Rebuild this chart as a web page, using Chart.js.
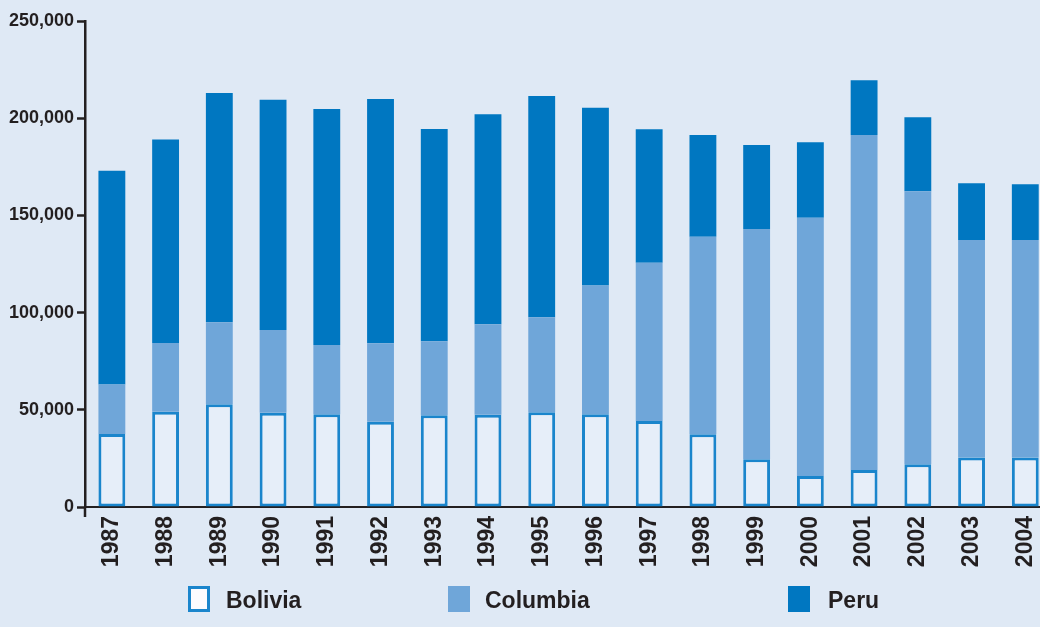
<!DOCTYPE html>
<html>
<head>
<meta charset="utf-8">
<script src="https://cdn.jsdelivr.net/npm/chart.js@4.4.1/dist/chart.umd.min.js"></script>
<style>
  html,body{margin:0;padding:0;background:#dfe9f5;overflow:hidden;width:1040px;height:627px;}
  #wrap{position:relative;width:1040px;height:627px;overflow:hidden;}
  #chart{position:absolute;left:0;top:0;}
  .legend-item{position:absolute;top:586px;height:26px;font:bold 23px "Liberation Sans",Arial,sans-serif;color:#231f20;line-height:28px;}
  .legend-sq{position:absolute;top:586px;width:22px;height:26px;box-sizing:border-box;}
</style>
</head>
<body>
<div id="wrap">
  <canvas id="chart" width="1062" height="627"></canvas>
  <div id="legend"></div>
</div>
<script>
// values (tonnes)
const years=['1987','1988','1989','1990','1991','1992','1993','1994','1995','1996','1997','1998','1999','2000','2001','2002','2003','2004'];
const bolivia=[37500,49000,52800,48500,47700,43900,47200,47500,48700,47700,44200,37400,24500,16000,19000,22000,25400,25400];
const columbia=[25500,35400,42200,42500,35600,40300,38000,46500,48900,66300,81500,101600,118500,132800,172400,140400,111900,111900];
const peru=[110000,104600,118000,118500,121400,125700,109200,108000,113800,91400,68600,52400,43200,38800,28100,38100,29200,28700];
const yTicks=[0,50000,100000,150000,200000,250000];

const FONT='"Liberation Sans", Arial, sans-serif';
const INK='#231f20';
const C_BOL='#1a85cc', C_BOL_FILL='#e6eef9', C_COL='#6fa6d9', C_PERU='#0077c1';

// y axis line runs a little past zero in the original
const axisStub={id:'axisStub',afterDraw(c){
  const ctx=c.ctx,a=c.chartArea;
  ctx.save();ctx.strokeStyle=INK;ctx.lineWidth=2.5;
  ctx.beginPath();ctx.moveTo(a.left,a.bottom);ctx.lineTo(a.left,a.bottom+10);ctx.stroke();
  ctx.restore();
}};

new Chart(document.getElementById('chart'),{
  type:'bar',
  data:{labels:years,datasets:[
    {label:'Bolivia',data:bolivia,backgroundColor:C_BOL_FILL,borderColor:C_BOL,borderWidth:3,borderSkipped:false},
    {label:'Columbia',data:columbia,backgroundColor:C_COL,borderWidth:0},
    {label:'Peru',data:peru,backgroundColor:C_PERU,borderWidth:0}
  ]},
  options:{
    responsive:false,animation:false,
    categoryPercentage:1,barPercentage:0.5,
    layout:{padding:{top:21,right:4,bottom:0,left:0}},
    plugins:{legend:{display:false},tooltip:{enabled:false}},
    scales:{
      x:{stacked:true,
        grid:{display:false,drawTicks:false},
        border:{display:true,color:INK,width:2},
        ticks:{minRotation:90,maxRotation:90,padding:9,color:INK,font:{family:FONT,size:23,weight:'bold'}},
        afterFit:s=>{s.height=120;}
      },
      y:{stacked:true,min:0,max:250000,
        afterBuildTicks:s=>{s.ticks=yTicks.map(v=>({value:v}));},
        grid:{drawOnChartArea:false,drawTicks:true,tickLength:8,tickWidth:2.5,tickColor:INK},
        border:{display:true,color:INK,width:2.5},
        ticks:{padding:3,color:INK,font:{family:FONT,size:18,weight:'bold'},callback:v=>v.toLocaleString('en-US')},
        afterFit:s=>{s.width=85;}
      }
    }
  },
  plugins:[axisStub]
});

// legend, placed like the original
const legendItems=[
  {name:'Bolivia',box:188,text:226,style:`border:3px solid ${C_BOL};background:#fbfbfe`},
  {name:'Columbia',box:448,text:485,style:`background:${C_COL}`},
  {name:'Peru',box:788,text:828,style:`background:${C_PERU}`}
];
document.getElementById('legend').innerHTML=legendItems.map(l=>
  `<span class="legend-sq" style="left:${l.box}px;${l.style}"></span><span class="legend-item" style="left:${l.text}px">${l.name}</span>`
).join('');
</script>
</body>
</html>
